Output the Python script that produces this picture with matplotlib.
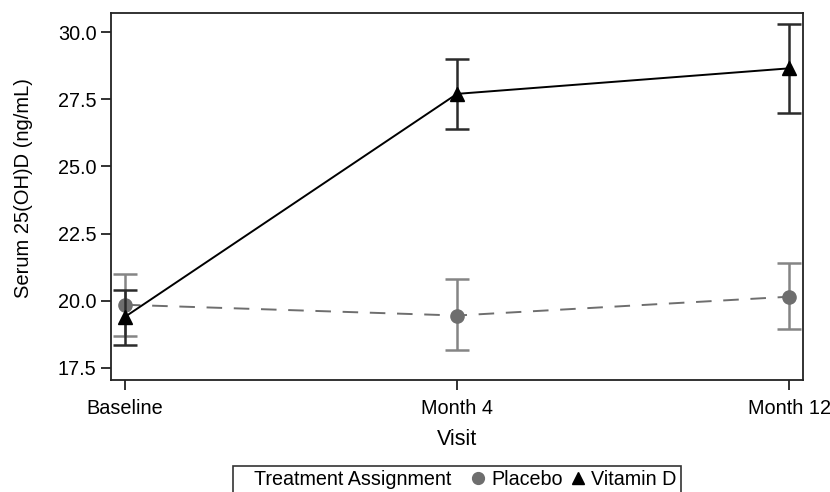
import matplotlib
matplotlib.use("Agg")
import matplotlib.pyplot as plt
from matplotlib.lines import Line2D

plt.rcParams['font.family'] = ['Liberation Sans', 'DejaVu Sans']

visits = ['Baseline', 'Month 4', 'Month 12']

placebo_mean = [19.85, 19.45, 20.15]
placebo_low = [18.7, 18.15, 18.95]
placebo_high = [21.0, 20.8, 21.4]

vitd_mean = [19.4, 27.7, 28.65]
vitd_low = [18.35, 26.4, 27.0]
vitd_high = [20.4, 29.0, 30.3]

x = list(range(len(visits)))

fig = plt.figure(figsize=(8.3, 4.92), dpi=100)
ax = fig.add_axes([111 / 830, 1 - 380 / 492, (803 - 111) / 830, (380 - 13) / 492])

pl_err = [[m - l for m, l in zip(placebo_mean, placebo_low)],
          [h - m for m, h in zip(placebo_mean, placebo_high)]]
vd_err = [[m - l for m, l in zip(vitd_mean, vitd_low)],
          [h - m for m, h in zip(vitd_mean, vitd_high)]]

ax.errorbar(x, placebo_mean, yerr=pl_err, fmt='none', ecolor='#858585',
            elinewidth=1.8, capsize=8.5, capthick=1.8, zorder=2)
ax.plot(x, placebo_mean, color='#6e6e6e', linestyle=(0, (8, 6)), linewidth=1.4,
        marker='o', markersize=9.5, markerfacecolor='#6e6e6e',
        markeredgecolor='#6e6e6e', zorder=3)

ax.errorbar(x, vitd_mean, yerr=vd_err, fmt='none', ecolor='#2b2b2b',
            elinewidth=1.8, capsize=8.5, capthick=1.8, zorder=4)
ax.plot(x, vitd_mean, color='black', linewidth=1.4, marker='^', markersize=9.5,
        markerfacecolor='black', markeredgecolor='black', zorder=5)

ax.set_xlim(-0.042, 2.042)
ax.set_ylim(17.05, 30.71)
ax.set_xticks(x)
ax.set_xticklabels(visits)
ax.set_yticks([17.5, 20.0, 22.5, 25.0, 27.5, 30.0])
ax.set_yticklabels(['17.5', '20.0', '22.5', '25.0', '27.5', '30.0'])
ax.tick_params(labelsize=14.3, length=7, width=1.3, colors='#222222', labelcolor='black')
ax.tick_params(axis='x', pad=6.5)
for s in ax.spines.values():
    s.set_linewidth(1.3)
    s.set_color('#222222')

ax.set_xlabel('Visit', fontsize=15.5, labelpad=8)
ax.set_ylabel('Serum 25(OH)D (ng/mL)', fontsize=14.5)
ax.yaxis.set_label_coords(-0.1127, 0.523)

# legend: first entry is just the title text, no marker
handles = [Line2D([], [], linestyle='none'),
           Line2D([], [], linestyle='none', marker='o', markersize=8.5, color='#6e6e6e'),
           Line2D([], [], linestyle='none', marker='^', markersize=8.5, color='black')]
labels = ['Treatment Assignment  ', 'Placebo', 'Vitamin D']
leg = fig.legend(handles, labels, loc='upper center', bbox_to_anchor=(457 / 830, 1 - 466 / 492),
                 ncol=3, fontsize=14.2, frameon=True, fancybox=False,
                 handlelength=0.4, handletextpad=0.45, columnspacing=0.6,
                 borderpad=0.2, borderaxespad=0, edgecolor='black')
leg.get_frame().set_linewidth(1.2)

fig.savefig('out.png', dpi=100)
